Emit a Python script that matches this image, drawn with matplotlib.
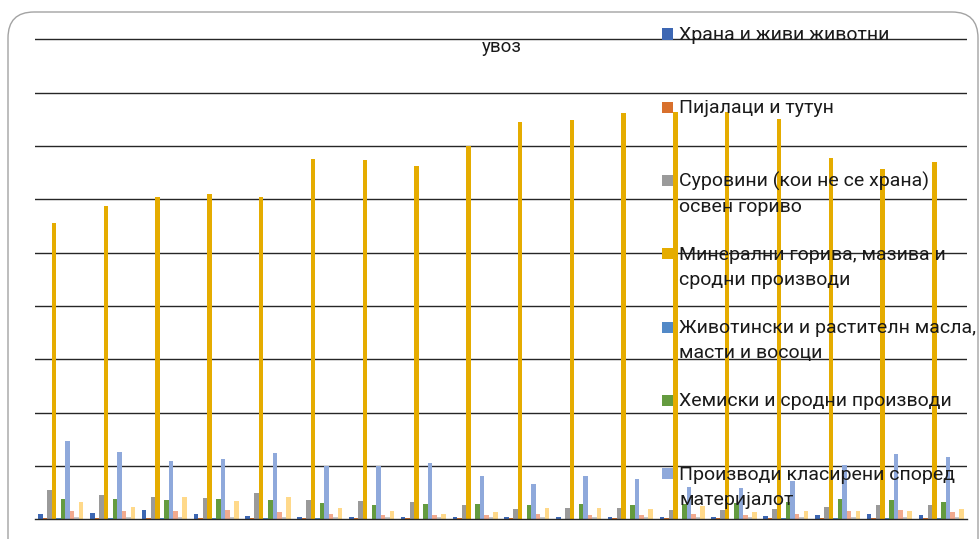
import matplotlib
matplotlib.use("Agg")
import matplotlib.pyplot as plt
import numpy as np
from matplotlib.patches import FancyBboxPatch, Rectangle
from matplotlib.transforms import IdentityTransform

plt.rcParams['font.family'] = ['Roboto', 'DejaVu Sans']

# 18 periods (no axis labels shown in the chart)
periods = list(range(18))

food = [0.11, 0.12, 0.17, 0.11, 0.06, 0.056, 0.045, 0.056, 0.045, 0.045, 0.04, 0.045, 0.055, 0.05, 0.07, 0.085, 0.10, 0.09]
beverages = [0.025, 0.025, 0.02, 0.025, 0.02, 0.02, 0.02, 0.02, 0.02, 0.02, 0.015, 0.02, 0.02, 0.02, 0.02, 0.025, 0.025, 0.025]
crude = [0.56, 0.45, 0.43, 0.41, 0.50, 0.37, 0.34, 0.32, 0.27, 0.19, 0.22, 0.21, 0.18, 0.17, 0.19, 0.23, 0.27, 0.28]
fuels = [5.55, 5.88, 6.04, 6.10, 6.04, 6.75, 6.74, 6.62, 6.99, 7.45, 7.49, 7.62, 7.64, 7.64, 7.50, 6.77, 6.57, 6.70]
oils = [0.02, 0.02, 0.02, 0.02, 0.02, 0.02, 0.015, 0.015, 0.015, 0.015, 0.015, 0.015, 0.015, 0.015, 0.02, 0.02, 0.02, 0.02]
chemicals = [0.39, 0.39, 0.37, 0.38, 0.37, 0.31, 0.27, 0.29, 0.29, 0.27, 0.29, 0.28, 0.29, 0.30, 0.33, 0.38, 0.36, 0.33]
manufactured = [1.48, 1.27, 1.09, 1.14, 1.25, 1.00, 1.00, 1.05, 0.81, 0.67, 0.82, 0.75, 0.61, 0.59, 0.73, 1.02, 1.23, 1.18]
machinery = [0.16, 0.15, 0.15, 0.17, 0.14, 0.11, 0.075, 0.09, 0.075, 0.10, 0.075, 0.075, 0.10, 0.09, 0.10, 0.16, 0.18, 0.14]
misc = [0.05, 0.05, 0.05, 0.04, 0.05, 0.04, 0.04, 0.04, 0.04, 0.04, 0.04, 0.04, 0.04, 0.04, 0.04, 0.05, 0.05, 0.05]
other = [0.33, 0.24, 0.42, 0.34, 0.43, 0.21, 0.15, 0.11, 0.14, 0.21, 0.21, 0.19, 0.25, 0.14, 0.16, 0.16, 0.16, 0.20]

series = [food, beverages, crude, fuels, oils, chemicals, manufactured, machinery, misc, other]
labels = [
    "Храна и живи животни",
    "Пијалаци и тутун",
    "Суровини (кои не се храна)\nосвен гориво",
    "Минерални горива, мазива и\nсродни производи",
    "Животински и растителн масла,\nмасти и восоци",
    "Хемиски и сродни производи",
    "Производи класирени според\nматеријалот",
    "Машини и транспортни уреди",
    "Разни готови производи",
    "Стоки и трансакции некласифицирани",
]
colors = ['#3d67b3', '#d8702c', '#9a9a9a', '#e5ac00', '#5289c7', '#649b3f',
          '#8fa9db', '#f2aa8e', '#c9c9c9', '#ffd98a']

W, H = 980, 539
fig = plt.figure(figsize=(9.8, 5.39), dpi=100)

# chart area border with rounded corners (display pixels)
border = FancyBboxPatch((8, -40), 970, 539 - 12 + 40,
                        boxstyle="round,pad=0,rounding_size=26",
                        transform=IdentityTransform(), facecolor='none',
                        edgecolor='#a3a3a3', linewidth=1.0)
fig.add_artist(border)

ax = fig.add_axes([35 / W, 0.03618, 932 / W, 0.9010])
x = np.arange(len(periods))
bw = 0.087
for j, (vals, c) in enumerate(zip(series, colors)):
    ax.bar(x + (j - 4.5) * bw, vals, width=bw, color=c, linewidth=0, zorder=2)

ax.set_xlim(-0.5, len(periods) - 0.5)
ax.set_ylim(0, 9.1)
ax.set_yticks(np.arange(1, 10))
ax.set_xticks([])
ax.yaxis.grid(True, color='#262626', linewidth=1.0)
ax.set_axisbelow(True)
ax.tick_params(left=False, labelleft=False)
for s in ['top', 'left', 'right']:
    ax.spines[s].set_visible(False)
ax.spines['bottom'].set_color('#262626')
ax.spines['bottom'].set_linewidth(1.0)

fig.text(502 / W, 1 - 47 / H, "увоз", ha='center', va='center', fontsize=13.5, color='#1a1a1a')

# legend (Excel-style, only the entries that fit in the chart are visible)
for k in range(7):
    cy = 34 + 73.3 * k
    fig.add_artist(Rectangle((662 / W, 1 - (cy + 5.5) / H), 11 / W, 11 / H,
                             transform=fig.transFigure, facecolor=colors[k], edgecolor='none'))
    for li, line in enumerate(labels[k].split('\n')):
        fig.text(679 / W, 1 - (cy + 6 + 25 * li) / H, line, ha='left', va='baseline',
                 fontsize=14, color='#1a1a1a')

fig.savefig("out.png", dpi=100)
